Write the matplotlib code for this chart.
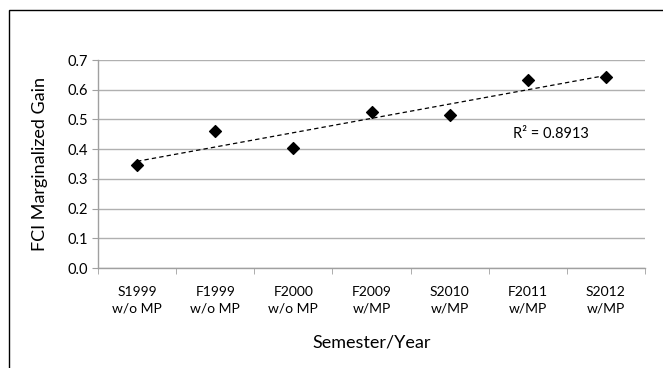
import numpy as np
import matplotlib.pyplot as plt
from matplotlib.patches import Rectangle

# Data
categories = ['S1999\nw/o MP', 'F1999\nw/o MP', 'F2000\nw/o MP', 'F2009\nw/MP',
              'S2010\nw/MP', 'F2011\nw/MP', 'S2012\nw/MP']
gain = [0.345, 0.460, 0.405, 0.524, 0.515, 0.634, 0.642]
r2_label = 'R² = 0.8913'

plt.rcParams['font.family'] = ['Lato', 'DejaVu Sans']

fig = plt.figure(figsize=(6.63, 3.68), dpi=100)
ax = fig.add_axes([98 / 663, 1 - 268 / 368, (645 - 98) / 663, (268 - 60) / 368])

# outer chart border (cut off at right and bottom)
fig.patches.append(Rectangle((9 / 663, -0.05), 1.1, 1 - 10 / 368 + 0.05,
                             transform=fig.transFigure, fill=False,
                             edgecolor='black', linewidth=1.0))

x = np.arange(len(categories))
ax.scatter(x, gain, marker='D', s=36, color='black', zorder=3)

# linear trendline
coef = np.polyfit(x, gain, 1)
ax.plot(x, np.polyval(coef, x), linestyle=(0, (3.5, 2.5)), color='black',
        linewidth=0.9, zorder=2)
ax.text(5.3, 0.452, r2_label, fontsize=10.5, ha='center', va='center')

ax.set_xlim(-0.5, len(categories) - 0.5)
ax.set_ylim(0, 0.7)
ax.set_yticks(np.arange(0, 0.71, 0.1))
ax.set_yticklabels([f'{v:.1f}' for v in np.arange(0, 0.71, 0.1)], fontsize=10.5)
ax.set_xticks(x)
ax.set_xticklabels(categories, fontsize=10, linespacing=1.45)
ax.set_xticks(np.arange(-0.5, len(categories)), minor=True)
ax.tick_params(axis='x', which='major', length=0, pad=13)
ax.tick_params(axis='x', which='minor', length=4, color='#a0a0a0')
ax.tick_params(axis='y', length=4, color='#a0a0a0', pad=3)
ax.yaxis.grid(True, color='#b0b0b0', linewidth=1.0)
ax.set_axisbelow(True)

for s in ['top', 'right']:
    ax.spines[s].set_visible(False)
for s in ['left', 'bottom']:
    ax.spines[s].set_color('#a0a0a0')
    ax.spines[s].set_linewidth(1.0)

ax.set_ylabel('FCI Marginalized Gain', fontsize=13, labelpad=14)
ax.set_xlabel('Semester/Year', fontsize=13, labelpad=14)

fig.savefig('out.png', dpi=100)
